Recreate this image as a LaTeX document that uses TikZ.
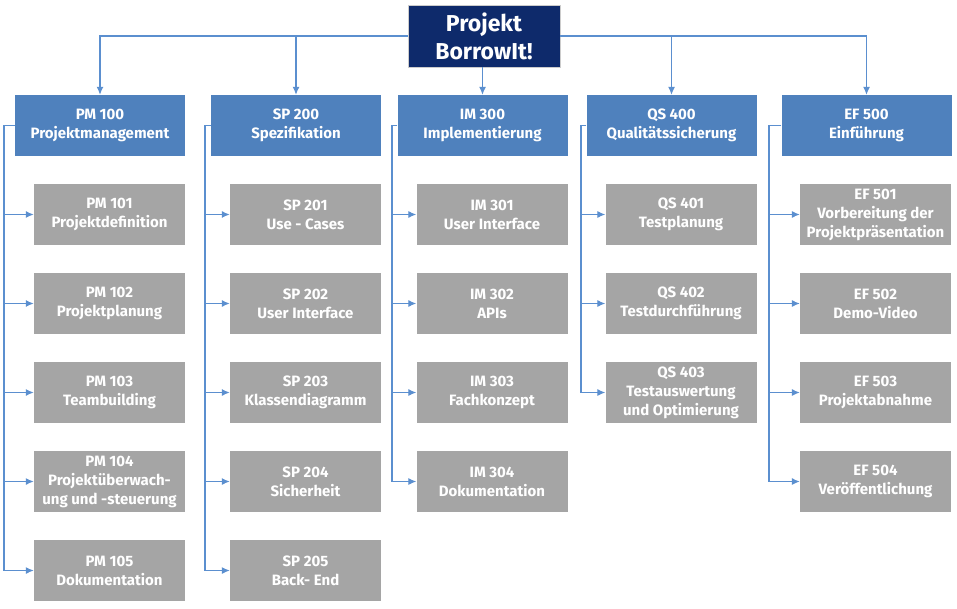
\documentclass[tikz,border=0pt]{standalone}
\usepackage{fontspec}
\setmainfont{Fira Sans}
\usetikzlibrary{arrows.meta}
\definecolor{rootc}{HTML}{0E2A6B}
\definecolor{catc}{HTML}{4F81BD}
\definecolor{subc}{HTML}{A5A5A5}
\definecolor{linec}{HTML}{5B8FCF}
\tikzset{
  rootbox/.style={fill=rootc, draw=gray!40, line width=0.8pt, text=white, font=\fontsize{23}{28}\selectfont\bfseries, align=center, minimum width=152pt, minimum height=62pt, inner sep=0pt},
  catbox/.style={fill=catc, text=white, font=\fontsize{15}{19}\selectfont\bfseries, align=center, minimum width=170pt, minimum height=61pt, inner sep=0pt},
  subbox/.style={fill=subc, text=white, font=\fontsize{15}{19}\selectfont\bfseries, align=center, minimum width=151pt, minimum height=61pt, inner sep=0pt},
  conn/.style={draw=linec, line width=1.1pt, -{Latex[length=8pt,width=7pt]}},
  plain/.style={draw=linec, line width=1.1pt}
}
\begin{document}
\begin{tikzpicture}[x=1pt,y=-1pt]
\useasboundingbox (0,0) rectangle (957,609);
% root
\node[rootbox] (root) at (484,36) {Projekt\\BorrowIt!};
% categories
\node[catbox] (pm) at (100,125.5) {PM 100\\Projektmanagement};
\node[catbox] (sp) at (296,125.5) {SP 200\\Spezifikation};
\node[catbox] (im) at (482.5,125.5) {IM 300\\Implementierung};
\node[catbox] (qs) at (671.5,125.5) {QS 400\\Qualitätssicherung};
\node[catbox] (ef) at (866.5,125.5) {EF 500\\Einführung};
% top connectors
\draw[conn] (root.west) -| (pm.north);
\draw[conn] (root.west) -| (sp.north);
\draw[conn] (root.east) -| (qs.north);
\draw[conn] (root.east) -| (ef.north);
\draw[conn] (root.south -| im.north) -- (im.north);
% PM
\node[subbox] (pm1) at (109.5,214.5) {PM 101\\Projektdefinition};
\node[subbox] (pm2) at (109.5,303.5) {PM 102\\Projektplanung};
\node[subbox] (pm3) at (109.5,392.5) {PM 103\\Teambuilding};
\node[subbox] (pm4) at (109.5,481.5) {PM 104\\Projektüberwach-\\ung und -steuerung};
\node[subbox] (pm5) at (109.5,570.5) {PM 105\\Dokumentation};
\coordinate (pmb) at (4,125.5);
\draw[plain] (pm.west) -- (pmb);
\foreach \c in {pm1,pm2,pm3,pm4,pm5} \draw[conn] (pmb) |- (\c.west);
% SP
\node[subbox] (sp1) at (305.5,214.5) {SP 201\\Use - Cases};
\node[subbox] (sp2) at (305.5,303.5) {SP 202\\User Interface};
\node[subbox] (sp3) at (305.5,392.5) {SP 203\\Klassendiagramm};
\node[subbox] (sp4) at (305.5,481.5) {SP 204\\Sicherheit};
\node[subbox] (sp5) at (305.5,570.5) {SP 205\\Back- End};
\coordinate (spb) at (205,125.5);
\draw[plain] (sp.west) -- (spb);
\foreach \c in {sp1,sp2,sp3,sp4,sp5} \draw[conn] (spb) |- (\c.west);
% IM
\node[subbox] (im1) at (492,214.5) {IM 301\\User Interface};
\node[subbox] (im2) at (492,303.5) {IM 302\\APIs};
\node[subbox] (im3) at (492,392.5) {IM 303\\Fachkonzept};
\node[subbox] (im4) at (492,481.5) {IM 304\\Dokumentation};
\coordinate (imb) at (392,125.5);
\draw[plain] (im.west) -- (imb);
\foreach \c in {im1,im2,im3,im4} \draw[conn] (imb) |- (\c.west);
% QS
\node[subbox] (qs1) at (681,214.5) {QS 401\\Testplanung};
\node[subbox] (qs2) at (681,303.5) {QS 402\\Testdurchführung};
\node[subbox] (qs3) at (681,392.5) {QS 403\\Testauswertung\\und Optimierung};
\coordinate (qsb) at (581,125.5);
\draw[plain] (qs.west) -- (qsb);
\foreach \c in {qs1,qs2,qs3} \draw[conn] (qsb) |- (\c.west);
% EF
\node[subbox] (ef1) at (875.5,214.5) {EF 501\\Vorbereitung der\\Projektpräsentation};
\node[subbox] (ef2) at (875.5,303.5) {EF 502\\Demo-Video};
\node[subbox] (ef3) at (875.5,392.5) {EF 503\\Projektabnahme};
\node[subbox] (ef4) at (875.5,481.5) {EF 504\\Veröffentlichung};
\coordinate (efb) at (769,125.5);
\draw[plain] (ef.west) -- (efb);
\foreach \c in {ef1,ef2,ef3,ef4} \draw[conn] (efb) |- (\c.west);
\end{tikzpicture}
\end{document}
